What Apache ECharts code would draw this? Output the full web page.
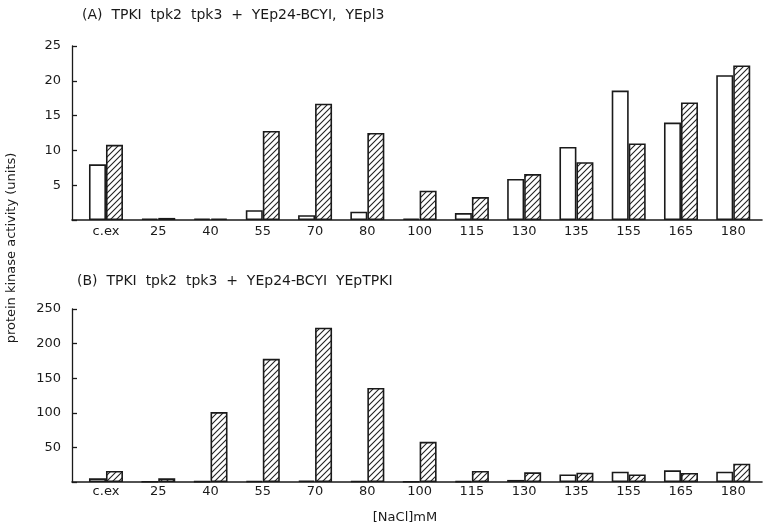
<!DOCTYPE html>
<html><head><meta charset="utf-8">
<script src="https://cdn.jsdelivr.net/npm/echarts@6/dist/echarts.min.js"></script>
<style>html,body{margin:0;padding:0;background:#fff}#c{width:765px;height:531px}</style>
</head><body><div id="c"></div>
<script>
const categories = ['c.ex','25','40','55','70','80','100','115','130','135','155','165','180'];
const topTicks = [5,10,15,20,25];
const botTicks = [50,100,150,200,250];
// Panel A: TPK1 tpk2 tpk3 + YEp24-BCY1, YEp13
const aControl = [8.0,0.2,0.2,1.4,0.7,1.2,0.2,1.0,5.9,10.5,18.6,14.0,20.8];
const aHatched = [10.8,0.3,0.2,12.8,16.7,12.5,4.2,3.3,6.6,8.3,11.0,16.9,22.2];
// Panel B: TPK1 tpk2 tpk3 + YEp24-BCY1 YEpTPK1
const bControl = [5.3,0.6,1.0,1.5,2.0,1.5,0.6,1.2,3.0,11.0,14.9,16.8,14.8];
const bHatched = [15.9,5.3,101,178,223,136,58,16.0,14.0,13.4,11.0,13.0,26.4];

const titleA = '(A)  TPKI  tpk2  tpk3  +  YEp24-BCYI,  YEpl3';
const titleB = '(B)  TPKI  tpk2  tpk3  +  YEp24-BCYI  YEpTPKI';
const yName = 'protein kinase activity (units)';
const xName = '[NaCl]mM';

const ink = '#1a1a1a';
const font = 'DejaVu Sans';

function hatch(){
  const s = 6, c = document.createElement('canvas');
  c.width = s; c.height = s;
  const g = c.getContext('2d');
  g.fillStyle = '#fff'; g.fillRect(0,0,s,s);
  g.strokeStyle = '#222'; g.lineWidth = 1.1;
  g.beginPath();
  g.moveTo(0,s); g.lineTo(s,0);
  g.moveTo(-1,1); g.lineTo(1,-1);
  g.moveTo(s-1,s+1); g.lineTo(s+1,s-1);
  g.stroke();
  return {image:c, repeat:'repeat'};
}
const pat = hatch();

const chart = echarts.init(document.getElementById('c'), null, {renderer:'canvas'});
const pair = arr => arr.map((v,i)=>[i,v]);

function xAxis(idx, margin){
  return {
    type:'value', gridIndex:idx, min:-0.65, max:12.55,
    axisLine:{show:true, onZero:false, lineStyle:{color:ink, width:1.6}},
    axisTick:{show:false}, splitLine:{show:false},
    axisLabel:{customValues:categories.map((c,i)=>i), formatter:v=>categories[Math.round(v)],
      color:ink, fontSize:13, fontFamily:font, margin:margin}
  };
}
function yAxis(idx, max, interval){
  return {
    type:'value', gridIndex:idx, min:0, max:max, interval:interval,
    axisLine:{show:true, onZero:false, lineStyle:{color:ink, width:1.3}},
    axisTick:{show:true, inside:true, length:5, lineStyle:{color:ink, width:1.3}},
    splitLine:{show:false},
    axisLabel:{formatter:v=>v===0?'':String(v), color:ink, fontSize:13, fontFamily:font, margin:11}
  };
}
const bar = (data, xi, yi, hatched) => ({
  type:'bar', xAxisIndex:xi, yAxisIndex:yi, data:pair(data),
  barWidth:17, barGap:'0%',
  itemStyle:{color: hatched ? pat : '#fff', borderColor:ink, borderWidth:1.6},
  emphasis:{disabled:true}, animation:false
});

chart.setOption({
  animation:false,
  backgroundColor:'#fff',
  grid:[
    {left:72, right:3, top:46, height:174},
    {left:72, right:3, top:309, height:173}
  ],
  xAxis:[xAxis(0,5), xAxis(1,3)],
  yAxis:[yAxis(0,25,5), yAxis(1,250,50)],
  series:[
    bar(aControl,0,0,false), bar(aHatched,0,0,true),
    bar(bControl,1,1,false), bar(bHatched,1,1,true)
  ],
  graphic:[
    {type:'text', left:82, top:8, style:{text:titleA, fill:ink, font:'14px '+font}},
    {type:'text', left:77, top:274, style:{text:titleB, fill:ink, font:'14px '+font}},
    {type:'text', x:12, y:248, rotation:Math.PI/2, style:{text:yName, fill:ink, font:'13px '+font, align:'center', verticalAlign:'middle'}},
    {type:'text', x:405, y:518, style:{text:xName, fill:ink, font:'13px '+font, align:'center', verticalAlign:'middle'}}
  ]
});
</script></body></html>
